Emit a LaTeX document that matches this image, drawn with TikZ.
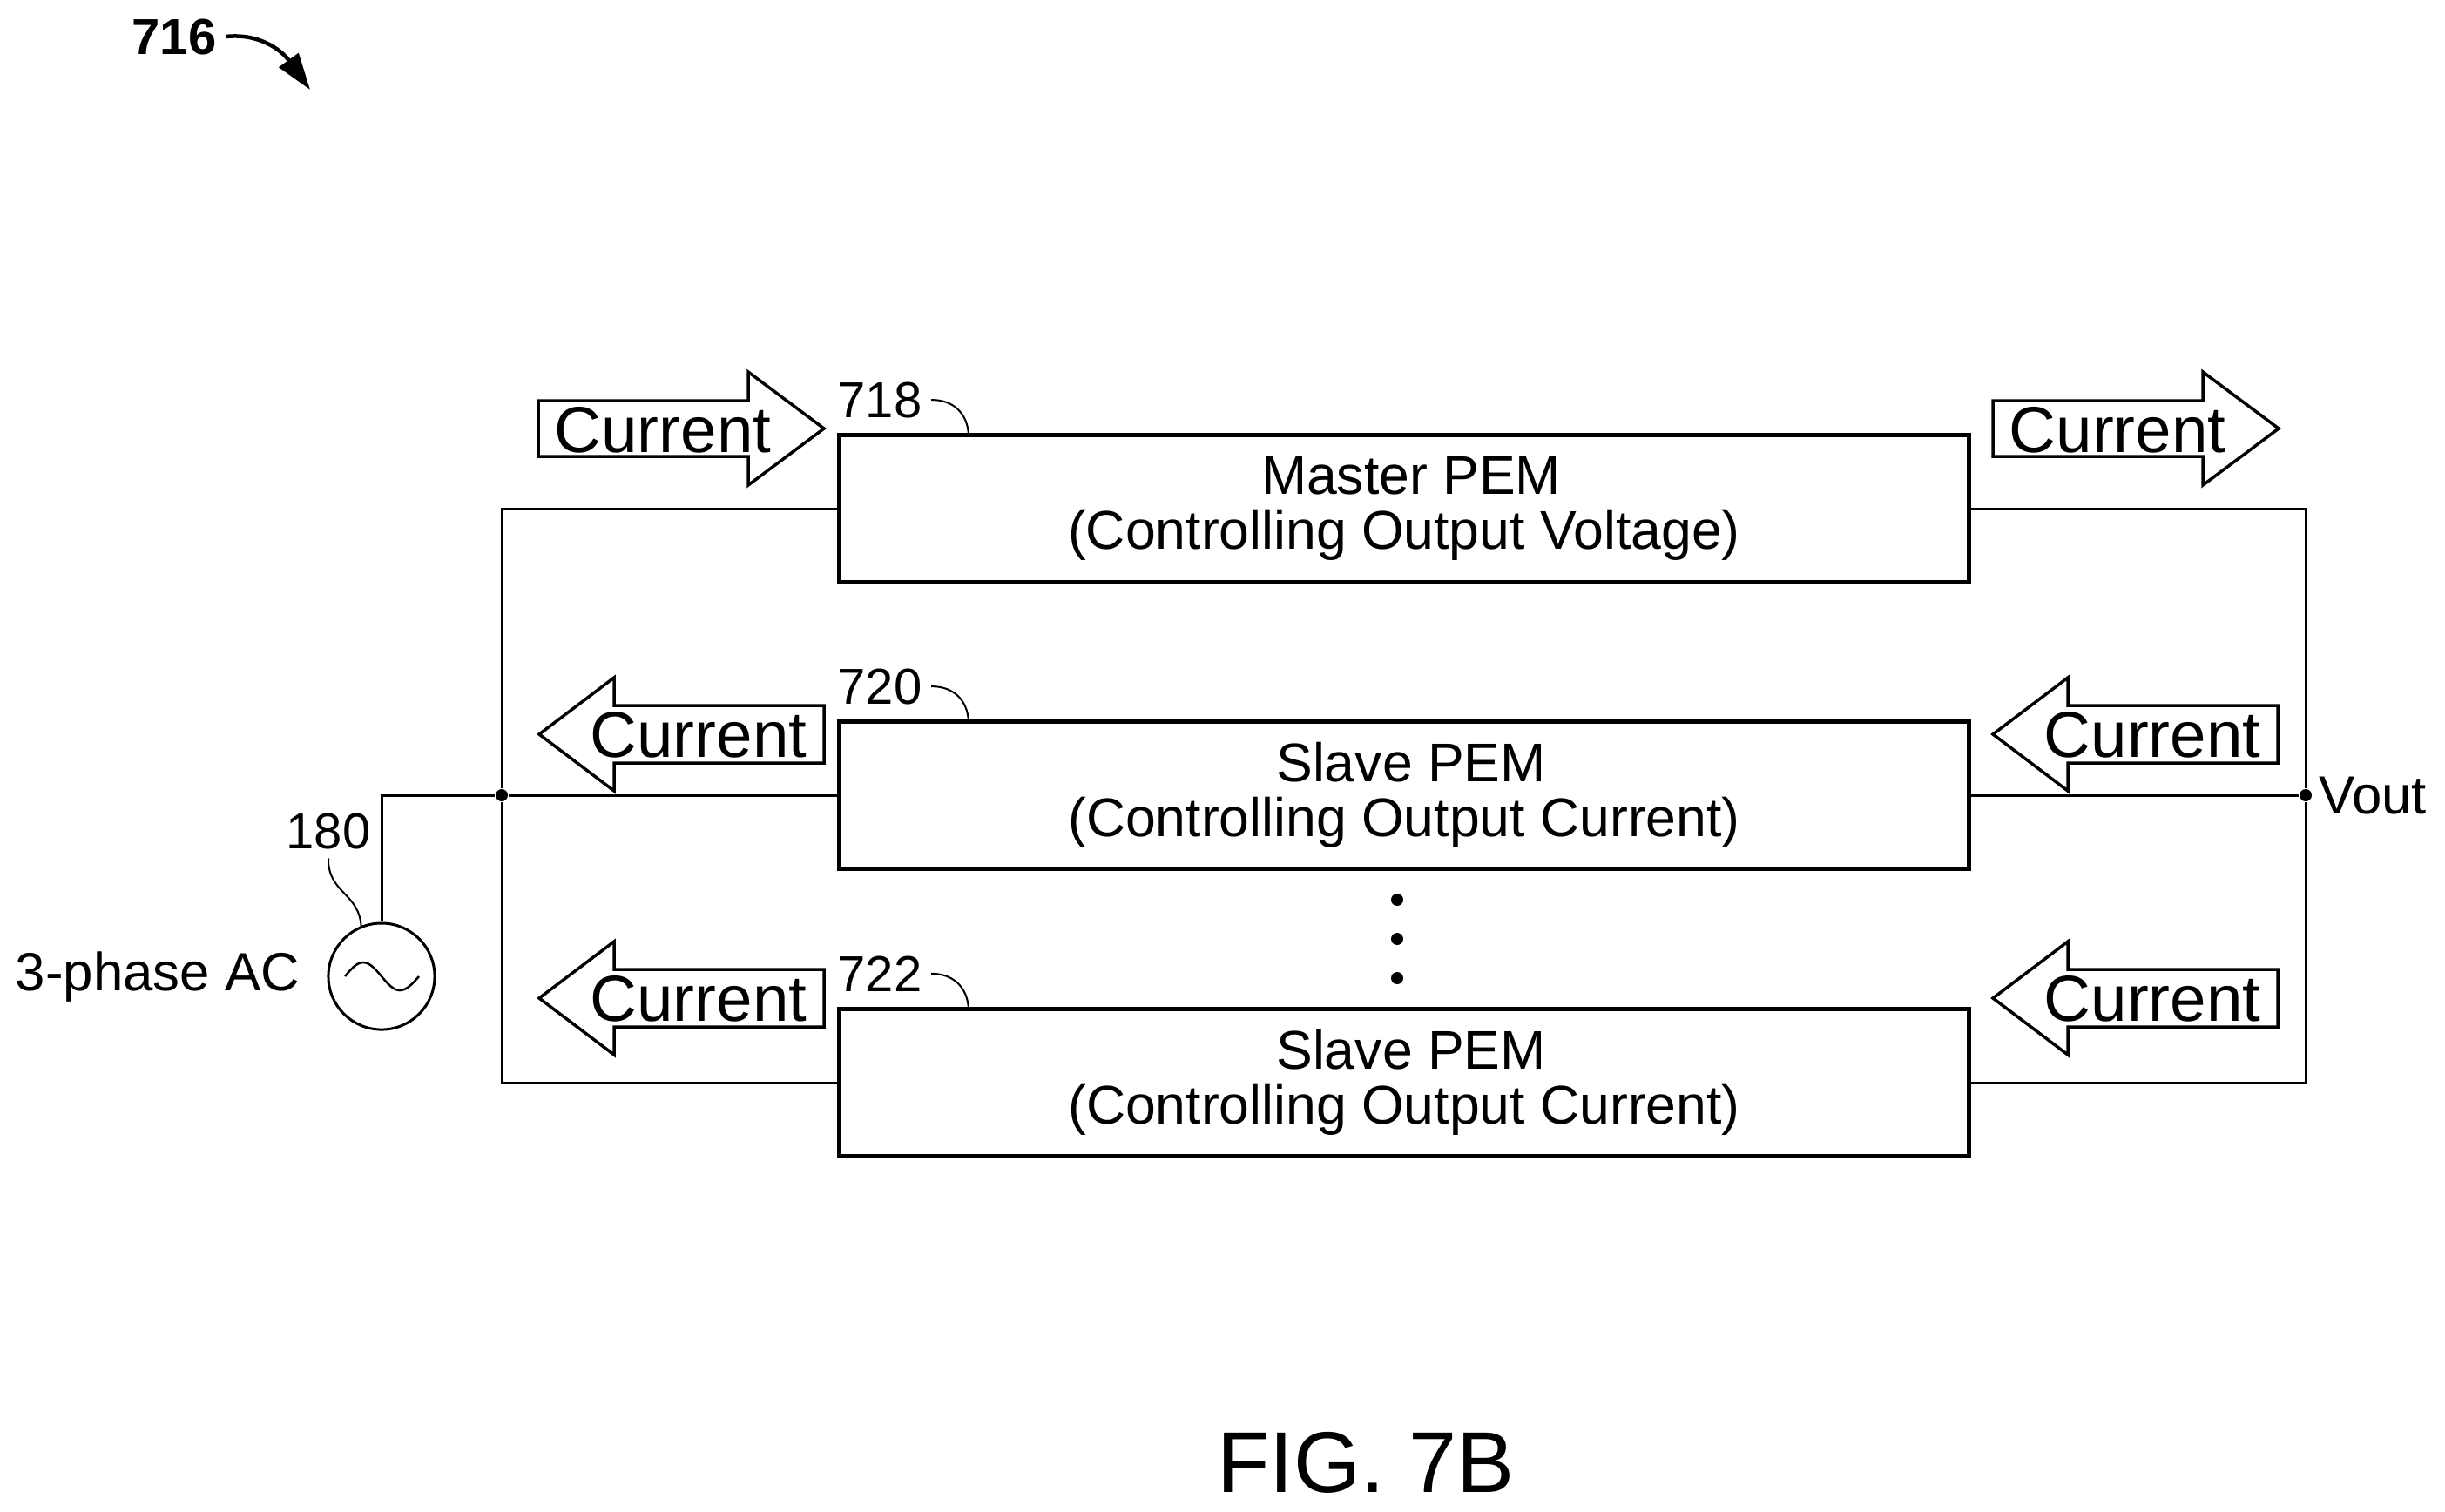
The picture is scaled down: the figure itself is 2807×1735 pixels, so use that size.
\documentclass[tikz,border=0pt]{standalone}
\usepackage{fontspec}
\setmainfont{Liberation Sans}
\usetikzlibrary{arrows.meta}
\newcommand{\pemlines}[2]{\hspace*{0.16cm}#1\\#2}
\tikzset{
    pembox/.style={draw, line width=0.05cm, minimum width=12.96cm, minimum height=1.68cm, inner sep=0pt, outer sep=0pt, align=center, font=\fontsize{0.625cm}{0.625cm}\selectfont},
    wire/.style={line width=0.03cm},
    jdot/.style={circle, fill=black, minimum size=0.14cm, inner sep=0pt},
    curarrow/.style={line width=0.035cm, line join=miter},
    curtext/.style={anchor=base, inner sep=0pt, font=\fontsize{0.745cm}{0.745cm}\selectfont},
    reflabel/.style={anchor=base, inner sep=0.1cm, font=\fontsize{0.58cm}{0.58cm}\selectfont},
    sidelabel/.style={anchor=base, inner sep=0pt, font=\fontsize{0.617cm}{0.617cm}\selectfont},
    leader/.style={line width=0.02cm}
}

\begin{document}
\begin{tikzpicture}[x=0.01cm, y=-0.01cm]
    \useasboundingbox (0, 0) rectangle (2807, 1735);

    % PEM boxes
    \node[pembox] (master) at (1612, 584) {\pemlines{Master PEM}{(Controlling Output Voltage)}};
    \node[pembox] (slave1) at (1612, 913) {\pemlines{Slave PEM}{(Controlling Output Current)}};
    \node[pembox] (slave2) at (1612, 1243) {\pemlines{Slave PEM}{(Controlling Output Current)}};

    % Dots between the slaves
    \node[jdot] (gap1) at (1604, 1033) {};
    \node[jdot] (gap2) at (1604, 1078) {};
    \node[jdot] (gap3) at (1604, 1123) {};

    % Junctions
    \node[jdot] (jleft) at (576, 913) {};
    \node[jdot] (jright) at (2647, 913) {};

    % AC source
    \node[draw, circle, line width=0.03cm, minimum size=1.22cm, inner sep=0pt] (source) at (438, 1121) {};
    \draw[line width=0.025cm] (396, 1121) sin (417, 1105) cos (438, 1121) sin (459, 1137) cos (481, 1121);  % Sine wave
    \node[sidelabel] (aclabel) at (181, 1137) {3-phase AC};
    \node[reflabel] (n180) at (377, 974) {180};
    \draw[leader] (n180.south) .. controls (376, 1025) and (412, 1025) .. (source.112);

    % Wires
    \draw[wire] (source.north) |- (jleft);
    \draw[wire] (jleft) -- (slave1.west);
    \draw[wire] (master.west) -| (jleft);
    \draw[wire] (slave2.west) -| (jleft);
    \draw[wire] (slave1.east) -- (jright);
    \draw[wire] (master.east) -| (jright);
    \draw[wire] (slave2.east) -| (jright);
    \node[sidelabel] (vout) at (2724, 934) {Vout};

    % Arrows pointing right
    \foreach \x in {618, 2288} {
        \draw[curarrow] (\x, 460) -- ++(241, 0) -- ++(0, -33) -- ++(87, 65) -- ++(-87, 65) -- ++(0, -33) -- ++(-241, 0) -- cycle;
        \node[curtext] (curr\x) at (\x+143, 519) {Current};
    }

    % Arrows pointing left
    \foreach \x in {619, 2288} {
        \foreach \y in {843, 1146} {
            \draw[curarrow] (\x, \y) -- ++(86, -65) -- ++(0, 32) -- ++(241, 0) -- ++(0, 66) -- ++(-241, 0) -- ++(0, 32) -- cycle;
            \node[curtext] (curl\x\y) at (\x+183, \y+26) {Current};
        }
    }

    % Reference numbers
    \foreach \name/\y/\num in {master/500/718, slave1/829/720, slave2/1159/722} {
        \node[reflabel] (n\num) at (1010, \y-21) {\num};
        \coordinate (end\num) at (1112, \y);
        \draw[leader] (n\num.east) .. controls (1095, \y-41) and (1111, \y-25) .. (end\num);
    }

    % Figure number and title
    \node[anchor=base, inner sep=0.1cm, font=\fontsize{0.58cm}{0.58cm}\selectfont\bfseries] (n716) at (200, 62) {716};
    \coordinate (tip716) at (356, 103);
    \draw[line width=0.045cm, -{Triangle[length=0.42cm, width=0.27cm]}] (n716.east) .. controls (296, 38) and (322, 56) .. (tip716);
    \node[anchor=base, inner sep=0pt, font=\fontsize{0.99cm}{0.99cm}\selectfont] (title) at (1568, 1713) {FIG. 7B};
\end{tikzpicture}
\end{document}
